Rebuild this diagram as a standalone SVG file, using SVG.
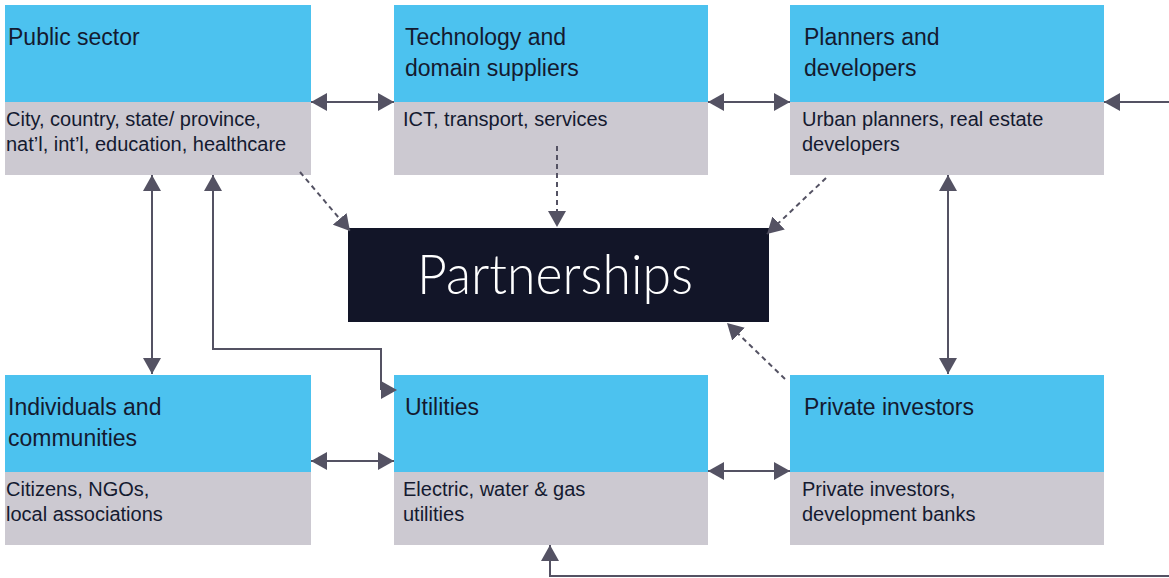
<svg xmlns="http://www.w3.org/2000/svg" width="1169" height="578" viewBox="0 0 1169 578">
<style>
.head{fill:#4cc2ef}
.sub{fill:#ccc9d1}
.t{font-family:"Liberation Sans",Arial,sans-serif;font-size:23px;fill:#141a30}
.b{font-family:"Liberation Sans",Arial,sans-serif;font-size:20px;fill:#141a30}
.c{fill:none;stroke:#545263;stroke-width:2}
.d{fill:none;stroke:#545263;stroke-width:2;stroke-dasharray:5 4}
.p{font-family:Lato,"Open Sans",sans-serif;font-weight:300;font-size:56px;fill:#ffffff}
</style>
<defs>
<marker id="ah" viewBox="0 0 16 18" refX="16" refY="9" markerWidth="16" markerHeight="18" markerUnits="userSpaceOnUse" orient="auto-start-reverse">
<path d="M0,0 L16,9 L0,18 z" fill="#545263"/>
</marker>
</defs>
<rect width="1169" height="578" fill="#ffffff"/>
<g id="public-sector">
<rect class="head" x="5" y="5" width="306" height="97"/>
<rect class="sub" x="5" y="102" width="306" height="73"/>
<text class="t" x="8" y="45">Public sector</text>
<text class="b" x="6" y="126">City, country, state/ province,</text>
<text class="b" x="6" y="151">nat’l, int’l, education, healthcare</text>
</g>
<g id="tech-suppliers">
<rect class="head" x="394" y="5" width="314" height="97"/>
<rect class="sub" x="394" y="102" width="314" height="73"/>
<text class="t" x="405" y="45">Technology and</text>
<text class="t" x="405" y="76">domain suppliers</text>
<text class="b" x="403" y="126">ICT, transport, services</text>
</g>
<g id="planners">
<rect class="head" x="790" y="5" width="314" height="97"/>
<rect class="sub" x="790" y="102" width="314" height="73"/>
<text class="t" x="804" y="45">Planners and</text>
<text class="t" x="804" y="76">developers</text>
<text class="b" x="802" y="126">Urban planners, real estate</text>
<text class="b" x="802" y="151">developers</text>
</g>
<g id="individuals">
<rect class="head" x="5" y="375" width="306" height="97"/>
<rect class="sub" x="5" y="472" width="306" height="73"/>
<text class="t" x="8" y="415">Individuals and</text>
<text class="t" x="8" y="446">communities</text>
<text class="b" x="6" y="496">Citizens, NGOs,</text>
<text class="b" x="6" y="521">local associations</text>
</g>
<g id="utilities">
<rect class="head" x="394" y="375" width="314" height="97"/>
<rect class="sub" x="394" y="472" width="314" height="73"/>
<text class="t" x="405" y="415">Utilities</text>
<text class="b" x="403" y="496">Electric, water &amp; gas</text>
<text class="b" x="403" y="521">utilities</text>
</g>
<g id="private-investors">
<rect class="head" x="790" y="375" width="314" height="97"/>
<rect class="sub" x="790" y="472" width="314" height="73"/>
<text class="t" x="804" y="415">Private investors</text>
<text class="b" x="802" y="496">Private investors,</text>
<text class="b" x="802" y="521">development banks</text>
</g>
<g id="partnerships">
<rect x="348" y="228" width="421" height="94" fill="#121528"/>
<text class="p" x="417" y="294" textLength="276" lengthAdjust="spacingAndGlyphs">Partnerships</text>
</g>
<g id="connectors">
<path class="c" d="M311,102 H394" marker-start="url(#ah)" marker-end="url(#ah)"/>
<path class="c" d="M708,102 H790" marker-start="url(#ah)" marker-end="url(#ah)"/>
<path class="c" d="M1169,102 H1104" marker-end="url(#ah)"/>
<path class="c" d="M311,461 H394" marker-start="url(#ah)" marker-end="url(#ah)"/>
<path class="c" d="M708,471 H790" marker-start="url(#ah)" marker-end="url(#ah)"/>
<path class="c" d="M152,175 V374" marker-start="url(#ah)" marker-end="url(#ah)"/>
<path class="c" d="M948,175 V374" marker-start="url(#ah)" marker-end="url(#ah)"/>
<path class="c" d="M213,175 V349 H381 V390" marker-start="url(#ah)"/>
<path d="M381,381 L397,390 L381,399 z" fill="#545263"/>
<path class="c" d="M1169,576 H550 V545" marker-end="url(#ah)"/>
<path class="d" d="M300,172 L350,231" marker-end="url(#ah)"/>
<path class="d" d="M557,146 V227" marker-end="url(#ah)"/>
<path class="d" d="M826,178 L767,234" marker-end="url(#ah)"/>
<path class="d" d="M785,379 L727,323" marker-end="url(#ah)"/>
</g>
</svg>
